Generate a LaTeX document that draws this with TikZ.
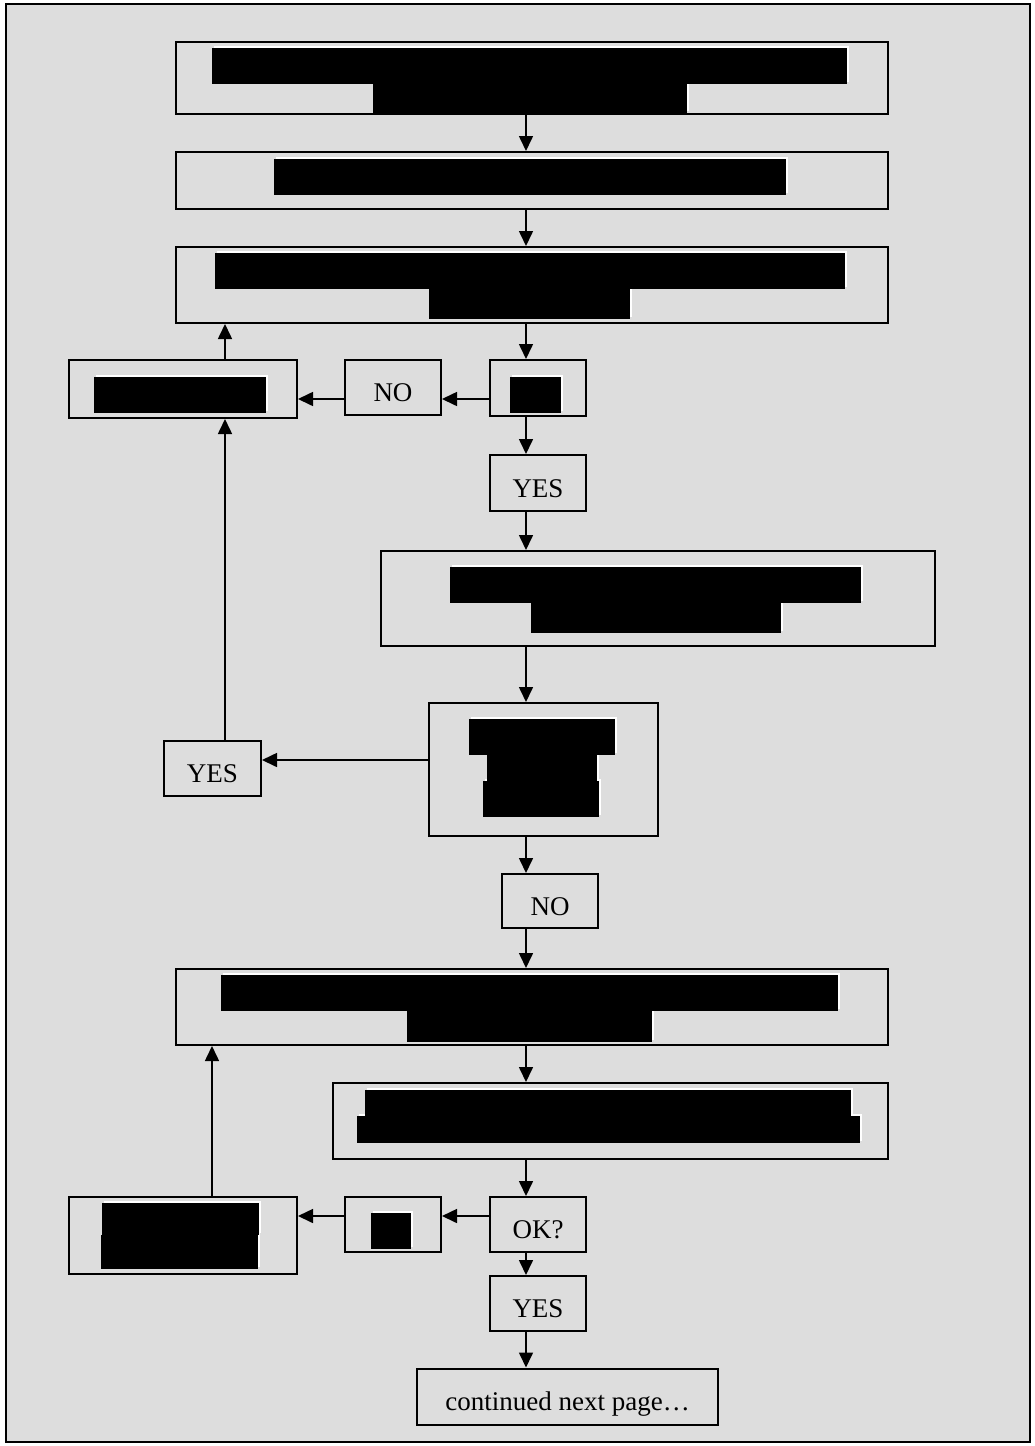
\documentclass[tikz,border=0pt]{standalone}
\usepackage{fontspec}
\setmainfont{Liberation Serif}
\usetikzlibrary{arrows.meta}
\definecolor{panel}{HTML}{DDDDDD}

\begin{document}
\begin{tikzpicture}[x=1pt, y=-1pt,
  box/.style={draw, line width=2pt, inner sep=0pt, text height=28pt, text depth=0pt,
    font=\fontsize{27}{31}\selectfont},
  arr/.style={-{Triangle[length=15pt, width=14pt]}, line width=1.6pt}]
\useasboundingbox (0,0) rectangle (1034,1446);
\draw [line width=2pt, fill=panel] (6,4) rectangle (1030,1442);
% main column
\node (b1) at (532,78) [box, minimum width=712pt, minimum height=72pt] {};
\node (b2) at (532,180.5) [box, minimum width=712pt, minimum height=57pt] {};
\node (b3) at (532,285) [box, minimum width=712pt, minimum height=76pt] {};
\node (d1) at (538,388) [box, minimum width=96pt, minimum height=56pt] {};
\node (no1) at (393,387.5) [box, minimum width=96pt, minimum height=55pt] {NO};
\node (l1) at (183,389) [box, minimum width=228pt, minimum height=58pt] {};
\node (yes1) at (538,483) [box, minimum width=96pt, minimum height=56pt] {YES};
\node (b4) at (658,598.5) [box, minimum width=554pt, minimum height=95pt] {};
\node (d2) at (543.5,769.5) [box, minimum width=229pt, minimum height=133pt] {};
\node (yes2) at (212.5,768.5) [box, minimum width=97pt, minimum height=55pt] {YES};
\node (no2) at (550,901) [box, minimum width=96pt, minimum height=54pt] {NO};
\node (b6) at (532,1007) [box, minimum width=712pt, minimum height=76pt] {};
\node (b7) at (610.5,1121) [box, minimum width=555pt, minimum height=76pt] {};
\node (ok) at (538,1224.5) [box, minimum width=96pt, minimum height=55pt] {OK?};
\node (s1) at (393,1224.5) [box, minimum width=96pt, minimum height=55pt] {};
\node (l2) at (183,1235.5) [box, minimum width=228pt, minimum height=77pt] {};
\node (yes3) at (538,1303.5) [box, minimum width=96pt, minimum height=55pt] {YES};
\node (cont) at (567.5,1396.5) [box, minimum width=301pt, minimum height=56pt] {continued next page\ldots};
% redacted text
\def\redactions{212/48/847/84, 373/84/687/113, 274/159/786/195, 215/253/845/289,
  429/289/630/319, 510/377/561/413, 94/377/266/413, 450/567/861/603, 531/603/781/633,
  469/719/615/755, 487/755/597/781, 483/781/599/817, 221/975/838/1011, 407/1011/652/1042,
  365/1090/851/1116, 357/1116/860/1143, 371/1213/411/1249, 102/1203/259/1235, 101/1235/258/1269}
\foreach \xa/\ya/\xb/\yb in \redactions
\fill [white] (\xa+2,\ya-2) rectangle (\xb+2,\yb-2);
\foreach \xa/\ya/\xb/\yb in \redactions
\fill [black] (\xa,\ya) rectangle (\xb,\yb);
% connectors
\coordinate (mx) at (526,0);
\coordinate (lx1) at (225,0);
\coordinate (lx2) at (212,0);
\coordinate (hy1) at (0,399);
\coordinate (hy2) at (0,760);
\coordinate (hy3) at (0,1216);
\draw [arr] (b1.south -| mx) -- (b2.north -| mx);
\draw [arr] (b2.south -| mx) -- (b3.north -| mx);
\draw [arr] (b3.south -| mx) -- (d1.north -| mx);
\draw [arr] (d1.west |- hy1) -- (no1.east |- hy1);
\draw [arr] (no1.west |- hy1) -- (l1.east |- hy1);
\draw [arr] (l1.north -| lx1) -- (b3.south -| lx1);
\draw [arr] (d1.south -| mx) -- (yes1.north -| mx);
\draw [arr] (yes1.south -| mx) -- (b4.north -| mx);
\draw [arr] (b4.south -| mx) -- (d2.north -| mx);
\draw [arr] (d2.west |- hy2) -- (yes2.east |- hy2);
\draw [arr] (yes2.north -| lx1) -- (l1.south -| lx1);
\draw [arr] (d2.south -| mx) -- (no2.north -| mx);
\draw [arr] (no2.south -| mx) -- (b6.north -| mx);
\draw [arr] (b6.south -| mx) -- (b7.north -| mx);
\draw [arr] (b7.south -| mx) -- (ok.north -| mx);
\draw [arr] (ok.west |- hy3) -- (s1.east |- hy3);
\draw [arr] (s1.west |- hy3) -- (l2.east |- hy3);
\draw [arr] (l2.north -| lx2) -- (b6.south -| lx2);
\draw [arr] (ok.south -| mx) -- (yes3.north -| mx);
\draw [arr] (yes3.south -| mx) -- (cont.north -| mx);
\end{tikzpicture}
\end{document}
